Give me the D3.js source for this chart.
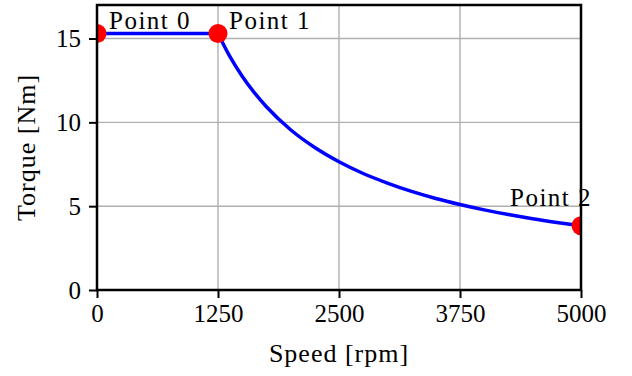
<!DOCTYPE html>
<html>
<head>
<meta charset="utf-8">
<script src="https://cdn.jsdelivr.net/npm/d3@7"></script>
<style>
  body { margin: 0; background: #fff; }
  text { font-family: "Liberation Serif", serif; fill: #000; }
</style>
</head>
<body>
<div id="chart"></div>
<script>
const MARGIN = { TOP: 5, BOTTOM: 86, LEFT: 97, RIGHT: 51 }
const WIDTH = 632 - MARGIN.LEFT - MARGIN.RIGHT
const HEIGHT = 376 - MARGIN.TOP - MARGIN.BOTTOM

// constant torque region
const speedFlat = [0, 1250]
const torqueFlat = [15.3, 15.3]
// field weakening region
const speedFall = [1250, 1375, 1500, 1625, 1750, 2000, 2250, 2500, 2750, 3000, 3250, 3500, 3750, 4000, 4250, 4500, 4750, 5000]
const torqueFall = [15.3, 13.9, 12.75, 11.77, 10.93, 9.56, 8.5, 7.65, 6.95, 6.38, 5.88, 5.46, 5.1, 4.78, 4.5, 4.25, 4.03, 3.83]

const pointSpeed = [0, 1250, 5000]
const pointTorque = [15.3, 15.3, 3.83]
const pointLabels = ["Point 0", "Point 1", "Point 2"]

const xTicks = [0, 1250, 2500, 3750, 5000]
const yTicks = [0, 5, 10, 15]

// label offsets in px relative to each point
const labelOffsets = [[12, -5], [11, -5], [-71, -20]]

const svg = d3.select("#chart")
              .append("svg")
              .attr("width", 632)
              .attr("height", 376)
              .append("g")
              .attr("transform", `translate(${MARGIN.LEFT}, ${MARGIN.TOP})`)

const x = d3.scaleLinear().domain([0, 5000]).range([0, WIDTH])
const y = d3.scaleLinear().domain([0, 17]).range([HEIGHT, 0])

svg.append("defs").append("clipPath")
   .attr("id", "clip")
   .append("rect")
   .attr("width", WIDTH)
   .attr("height", HEIGHT)

// grid
svg.append("g")
   .selectAll("line.gx")
   .data(xTicks)
   .join("line")
   .attr("x1", d => x(d)).attr("x2", d => x(d))
   .attr("y1", 0).attr("y2", HEIGHT)
   .attr("stroke", "#b0b0b0")
   .attr("stroke-width", 1.4)
svg.append("g")
   .selectAll("line.gy")
   .data(yTicks)
   .join("line")
   .attr("x1", 0).attr("x2", WIDTH)
   .attr("y1", d => y(d)).attr("y2", d => y(d))
   .attr("stroke", "#b0b0b0")
   .attr("stroke-width", 1.4)

const plot = svg.append("g").attr("clip-path", "url(#clip)")

const line = d3.line()
               .x(d => x(d[0]))
               .y(d => y(d[1]))

plot.append("path")
    .datum(d3.zip(speedFlat, torqueFlat))
    .attr("fill", "none")
    .attr("stroke", "#0000ff")
    .attr("stroke-width", 3.5)
    .attr("d", line)

plot.append("path")
    .datum(d3.zip(speedFall, torqueFall))
    .attr("fill", "none")
    .attr("stroke", "#0000ff")
    .attr("stroke-width", 3.5)
    .attr("d", line.curve(d3.curveMonotoneX))

plot.selectAll("circle")
    .data(d3.zip(pointSpeed, pointTorque))
    .join("circle")
    .attr("cx", d => x(d[0]))
    .attr("cy", d => y(d[1]))
    .attr("r", 9.5)
    .attr("fill", "#ff0000")

// axes
const xAxis = svg.append("g")
                 .attr("transform", `translate(0, ${HEIGHT})`)
                 .call(d3.axisBottom(x).tickValues(xTicks).tickSize(8).tickPadding(6).tickFormat(d3.format("d")))
const yAxis = svg.append("g")
                 .call(d3.axisLeft(y).tickValues(yTicks).tickSize(8).tickPadding(8).tickFormat(d3.format("d")))

;[xAxis, yAxis].forEach(a => {
  a.select(".domain").remove()
  a.selectAll(".tick line").attr("stroke", "#000").attr("stroke-width", 2)
  a.selectAll(".tick text")
   .style("font-family", "'Liberation Serif', serif")
   .style("font-size", "25px")
   .attr("fill", "#000")
})

// frame
svg.append("rect")
   .attr("width", WIDTH)
   .attr("height", HEIGHT)
   .attr("fill", "none")
   .attr("stroke", "#000")
   .attr("stroke-width", 2.5)

// point labels
svg.selectAll("text.plabel")
   .data(pointLabels)
   .join("text")
   .attr("class", "plabel")
   .attr("x", (d, i) => x(pointSpeed[i]) + labelOffsets[i][0])
   .attr("y", (d, i) => y(pointTorque[i]) + labelOffsets[i][1])
   .style("font-size", "25px")
   .style("letter-spacing", "1.5px")
   .text(d => d)

svg.append("text")
   .attr("x", WIDTH / 2)
   .attr("y", HEIGHT + 72)
   .attr("text-anchor", "middle")
   .style("font-size", "26px")
   .style("letter-spacing", "1px")
   .text("Speed [rpm]")

svg.append("text")
   .attr("x", -HEIGHT / 2)
   .attr("y", -62)
   .attr("text-anchor", "middle")
   .attr("transform", "rotate(-90)")
   .style("font-size", "26px")
   .style("letter-spacing", "1px")
   .text("Torque [Nm]")
</script>
</body>
</html>
